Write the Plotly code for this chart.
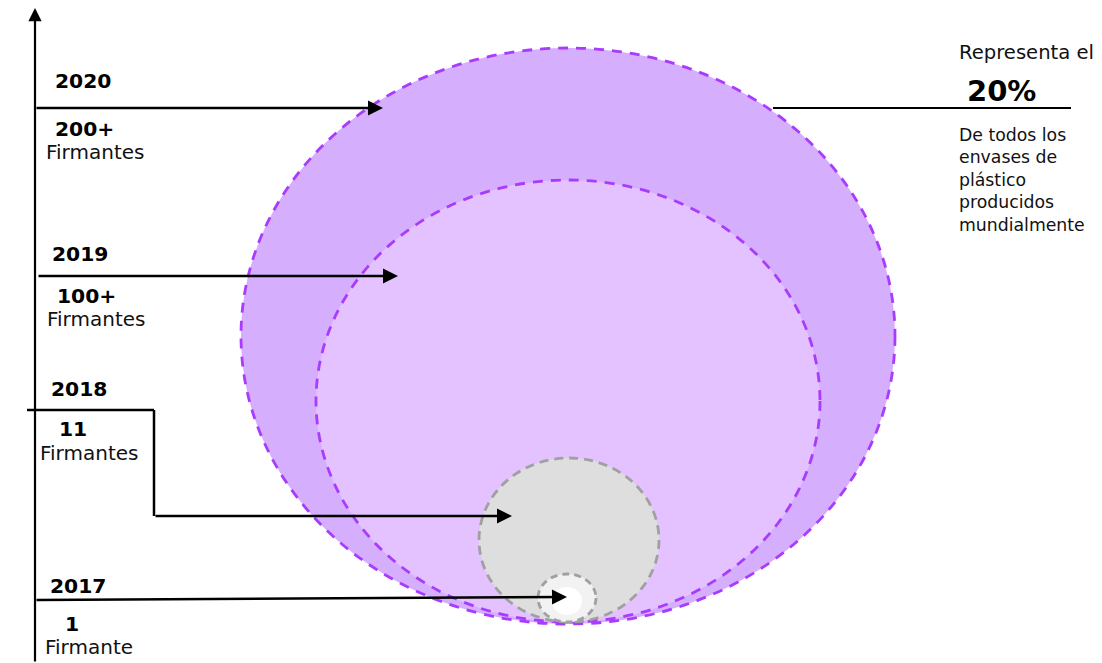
import plotly.graph_objects as go

# ---- data ----
years = ["2020", "2019", "2018", "2017"]
counts = ["200+", "100+", "11", "1"]
units = ["Firmantes", "Firmantes", "Firmantes", "Firmante"]

# circle geometry in canvas units (x right, y down)
circle_cx = [568, 568, 569, 567]
circle_cy = [336, 401, 540, 598]
circle_rx = [327, 252, 90, 29]
circle_ry = [288, 221, 82, 24]
circle_fill = ["#D5AEFD", "#E3C2FF", "#DEDEDE", "#F2F2F2"]
circle_line = ["#A93BFF", "#A93BFF", "#A0A0A0", "#A0A0A0"]
circle_dash = ["10px,8px", "10px,8px", "9px,6px", "7px,5px"]
core_cx, core_cy, core_rx, core_ry = 567, 601, 15, 14

# label positions
year_x = [53, 50, 49, 48]
year_y = [80.5, 254, 388.5, 585.5]
count_x = [53, 55, 57, 63]
count_y = [128.5, 295.5, 429, 623.5]
unit_x = [44, 45, 38, 43]
unit_y = [151.5, 319, 452.5, 646.5]

# arrows: start and end points
arrow_x0 = [35, 37, 154, 35]
arrow_y0 = [108, 276, 516, 600]
arrow_x1 = [383, 398, 512, 567]
arrow_y1 = [108, 276, 516, 597]
elbow_x = [27, 154, 154]
elbow_y = [410, 410, 516]

axis_x = [35, 35]
axis_y = [663, 8]

right_top = "Representa el"
right_pct = "20%"
right_lines = ["De todos los", "envases de", "plástico", "producidos", "mundialmente"]
right_rule_x = [773, 1071]
right_rule_y = [108, 108]

W, H = 1102, 663

fig = go.Figure()
fig.add_trace(go.Scatter(x=[0, W], y=[0, H], mode="markers",
                         marker=dict(opacity=0), hoverinfo="skip", showlegend=False))

shapes = []
for cx, cy, rx, ry, fc, lc, dd in zip(circle_cx, circle_cy, circle_rx, circle_ry,
                                      circle_fill, circle_line, circle_dash):
    shapes.append(dict(type="circle", xref="x", yref="y",
                       x0=cx - rx, x1=cx + rx, y0=cy - ry, y1=cy + ry,
                       fillcolor=fc, line=dict(color=lc, width=2.8, dash=dd), layer="above"))
shapes.append(dict(type="circle", xref="x", yref="y",
                   x0=core_cx - core_rx, x1=core_cx + core_rx,
                   y0=core_cy - core_ry, y1=core_cy + core_ry,
                   fillcolor="#FFFFFF", line=dict(width=0), layer="above"))
# elbow line
for i in range(len(elbow_x) - 1):
    shapes.append(dict(type="line", xref="x", yref="y",
                       x0=elbow_x[i], y0=elbow_y[i], x1=elbow_x[i + 1], y1=elbow_y[i + 1],
                       line=dict(color="#000000", width=2.5), layer="above"))
# right rule
shapes.append(dict(type="line", xref="x", yref="y",
                   x0=right_rule_x[0], y0=right_rule_y[0], x1=right_rule_x[1], y1=right_rule_y[1],
                   line=dict(color="#000000", width=2), layer="above"))

ann = []
# vertical axis arrow
ann.append(dict(x=axis_x[1], y=axis_y[1], ax=axis_x[0], ay=axis_y[0], xref="x", yref="y",
                axref="x", ayref="y", text="", showarrow=True, arrowhead=2,
                arrowwidth=2.2, arrowsize=1.2, arrowcolor="#000000"))
for x0, y0, x1, y1 in zip(arrow_x0, arrow_y0, arrow_x1, arrow_y1):
    ann.append(dict(x=x1, y=y1, ax=x0, ay=y0, xref="x", yref="y",
                    axref="x", ayref="y", text="", showarrow=True, arrowhead=2,
                    arrowwidth=2.5, arrowsize=1.2, arrowcolor="#000000"))

bold = dict(family="DejaVu Sans", size=20.3, color="#000000", weight="bold")
reg = dict(family="DejaVu Sans", size=20, color="#111111")
for i in range(len(years)):
    ann.append(dict(x=year_x[i], y=year_y[i], text=years[i], showarrow=False,
                    xanchor="left", yanchor="middle", font=bold))
    ann.append(dict(x=count_x[i], y=count_y[i], text=counts[i], showarrow=False,
                    xanchor="left", yanchor="middle", font=bold))
    ann.append(dict(x=unit_x[i], y=unit_y[i], text=units[i], showarrow=False,
                    xanchor="left", yanchor="middle", font=reg))

ann.append(dict(x=957, y=52, text=right_top, showarrow=False, xanchor="left", yanchor="middle",
                font=dict(family="DejaVu Sans", size=19.6, color="#111111")))
ann.append(dict(x=965, y=91, text=right_pct, showarrow=False, xanchor="left", yanchor="middle",
                font=dict(family="DejaVu Sans", size=29, color="#000000", weight="bold")))
ann.append(dict(x=957, y=180, text="<br>".join(right_lines), showarrow=False, xanchor="left",
                yanchor="middle", align="left",
                font=dict(family="DejaVu Sans", size=17.3, color="#111111")))

fig.update_layout(
    width=W, height=H, margin=dict(l=0, r=0, t=0, b=0),
    paper_bgcolor="white", plot_bgcolor="white",
    xaxis=dict(range=[0, W], visible=False, fixedrange=True),
    yaxis=dict(range=[H, 0], visible=False, fixedrange=True),
    shapes=shapes, annotations=ann, showlegend=False,
)
fig.write_html("out.html", config={"displayModeBar": False},
               post_script="document.body.style.margin='0';document.body.style.overflow='hidden';")
